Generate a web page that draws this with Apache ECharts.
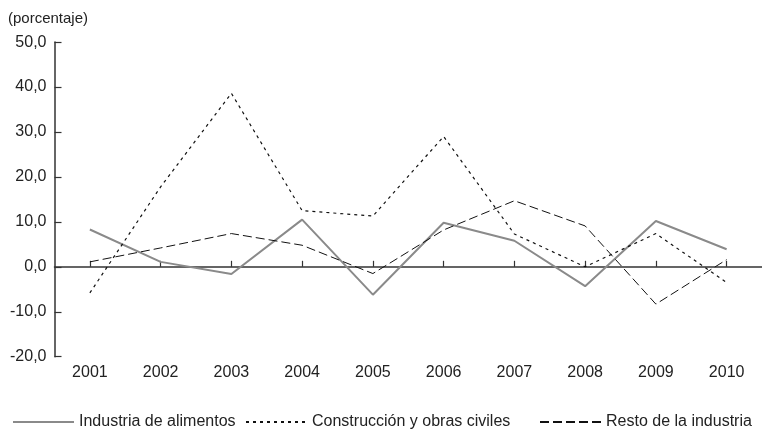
<!DOCTYPE html>
<html>
<head>
<meta charset="utf-8">
<script src="https://cdn.jsdelivr.net/npm/echarts@6/dist/echarts.min.js"></script>
<style>
  html, body { margin: 0; padding: 0; background: #fff; }
  #chart { width: 762px; height: 439px; }
</style>
</head>
<body>
<div id="chart"></div>
<script>
// datos
var years = ['2001', '2002', '2003', '2004', '2005', '2006', '2007', '2008', '2009', '2010']
var alimentos = [8.3, 1.1, -1.6, 10.5, -6.2, 9.8, 5.8, -4.3, 10.2, 3.9]
var construccion = [-5.8, 17.8, 38.6, 12.5, 11.3, 29.0, 7.3, 0.0, 7.4, -3.5]
var resto = [1.1, 4.2, 7.4, 4.8, -1.5, 8.2, 14.7, 9.1, -8.3, 1.6]
var names = ['Industria de alimentos', 'Construcción y obras civiles', 'Resto de la industria']

var font = 'Liberation Sans, Arial, sans-serif'
var chart = echarts.init(document.getElementById('chart'))

// una leyenda por serie para poder ubicarlas como en el original
function legendAt(name, left) {
  return {
    data: [name],
    left: left,
    top: 414,
    padding: 0,
    itemWidth: 61,
    itemHeight: 14,
    itemStyle: { opacity: 0 },
    textStyle: { fontFamily: font, fontSize: 16, color: '#222' }
  }
}

chart.setOption({
  animation: false,
  title: {
    text: '(porcentaje)',
    left: 3,
    top: 6,
    textStyle: { fontFamily: font, fontSize: 15, fontWeight: 'normal', color: '#222' }
  },
  legend: [
    legendAt(names[0], 12),
    legendAt(names[1], 245),
    legendAt(names[2], 539)
  ],
  grid: {
    left: 54.5,
    top: 42.1,
    bottom: 82.3,
    right: -8
  },
  xAxis: [
    {
      // etiquetas abajo
      type: 'category',
      data: years,
      position: 'bottom',
      axisLine: { show: false, onZero: false },
      axisTick: { show: false },
      axisLabel: { fontFamily: font, fontSize: 16, color: '#222', margin: 8 }
    },
    {
      // eje en cero con marcas hacia arriba
      type: 'category',
      data: years,
      position: 'bottom',
      axisLine: { show: true, onZero: true, lineStyle: { color: '#333', width: 1.5 } },
      axisTick: { show: true, inside: true, alignWithLabel: true, length: 6, lineStyle: { color: '#333', width: 1.2 } },
      axisLabel: { show: false }
    }
  ],
  yAxis: {
    type: 'value',
    min: -20,
    max: 50,
    interval: 10,
    axisLine: { show: true, lineStyle: { color: '#333', width: 1.5 } },
    axisTick: { show: true, inside: true, length: 7, lineStyle: { color: '#333', width: 1.2 } },
    splitLine: { show: false },
    axisLabel: {
      fontFamily: font,
      fontSize: 16,
      color: '#222',
      margin: 8,
      formatter: function (v) { return v.toFixed(1).replace('.', ',') }
    }
  },
  series: [
    {
      name: names[0],
      type: 'line',
      data: alimentos,
      symbol: 'none',
      color: '#8a8a8a',
      lineStyle: { color: '#8a8a8a', width: 2 }
    },
    {
      name: names[1],
      type: 'line',
      data: construccion,
      symbol: 'none',
      color: '#111',
      lineStyle: { color: '#111', width: 1.2, type: [3, 4] }
    },
    {
      name: names[2],
      type: 'line',
      data: resto,
      symbol: 'none',
      color: '#111',
      lineStyle: { color: '#111', width: 1, type: [9, 4] }
    }
  ]
})
</script>
</body>
</html>
